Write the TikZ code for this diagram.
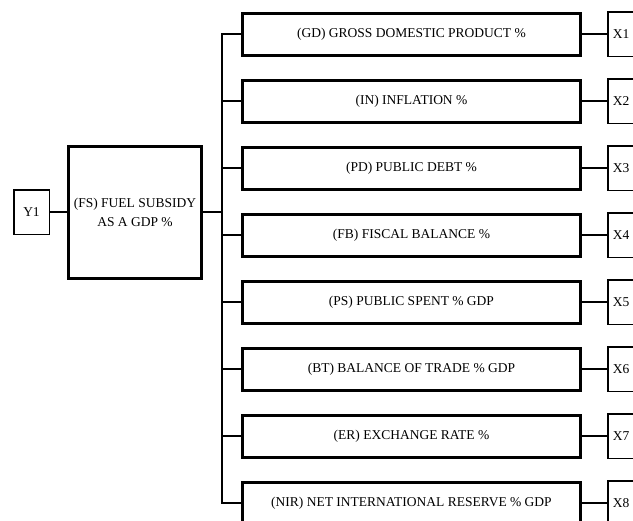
\documentclass[tikz,border=0pt]{standalone}
\usepackage{fontspec}
\setmainfont{Liberation Serif}
\begin{document}
\begin{tikzpicture}[x=1pt, y=1pt, grow'=right,
  every node/.style = {shape=rectangle, draw, align=center,
    font=\fontsize{13.5}{19}\selectfont},
  thinbox/.style = {line width=1.5pt, minimum width=35.5pt,
    minimum height=44.5pt, inner sep=1pt},
  xbox/.style = {thinbox, minimum width=26.5pt},
  thickbox/.style = {line width=3pt, minimum width=338pt, minimum height=42pt},
  edge from parent/.style = {draw, line width=2pt},
  level 1/.style = {level distance=103.5pt},
  level 2/.style = {level distance=276.5pt, sibling distance=67pt,
    every child node/.style = {yshift=-56.5pt},
    edge from parent path = {(\tikzparentnode.east) -- ++(19pt,0pt) |- (\tikzchildnode.west)}},
  level 3/.style = {level distance=209.5pt,
    every child node/.style = {},
    edge from parent path = {(\tikzparentnode) -- (\tikzchildnode)}}]
  \useasboundingbox (0,0) rectangle (633,-521);
  \node[thinbox] (y1) at (31.5,-212.5) {Y1}
    child { node[thickbox, minimum width=133pt, minimum height=132pt] (fs) {(FS) FUEL SUBSIDY\\AS A GDP \%}
      child { node[thickbox] (gd) {(GD) GROSS DOMESTIC PRODUCT \%}
        child { node[xbox] (x1) {X1}}
      }
      child { node[thickbox] (in) {(IN) INFLATION \%}
        child { node[xbox] (x2) {X2}}
      }
      child { node[thickbox] (pd) {(PD) PUBLIC DEBT \%}
        child { node[xbox] (x3) {X3}}
      }
      child { node[thickbox] (fb) {(FB) FISCAL BALANCE \%}
        child { node[xbox] (x4) {X4}}
      }
      child { node[thickbox] (ps) {(PS) PUBLIC SPENT \% GDP}
        child { node[xbox] (x5) {X5}}
      }
      child { node[thickbox] (bt) {(BT) BALANCE OF TRADE \% GDP}
        child { node[xbox] (x6) {X6}}
      }
      child { node[thickbox] (er) {(ER) EXCHANGE RATE \%}
        child { node[xbox] (x7) {X7}}
      }
      child { node[thickbox] (nir) {(NIR) NET INTERNATIONAL RESERVE \% GDP}
        child { node[xbox] (x8) {X8}}
      }
    };
\end{tikzpicture}
\end{document}
